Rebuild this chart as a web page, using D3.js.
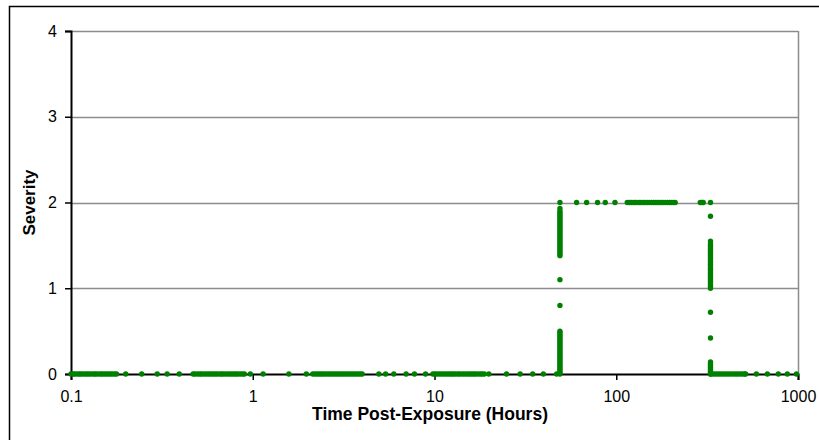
<!DOCTYPE html>
<html>
<head>
<meta charset="utf-8">
<script src="https://d3js.org/d3.v7.min.js"></script>
<style>
  body { margin: 0; background: #fff; }
  svg { display: block; font-family: "Liberation Sans", Arial, sans-serif; }
</style>
</head>
<body>
<svg width="819" height="440"></svg>
<script>
// hours where severity read as 0
var zeroHours = [
  0.100, 0.103, 0.105, 0.108, 0.111, 0.113, 0.116, 0.119, 0.122, 0.125, 0.128, 0.132,
  0.135, 0.138, 0.142, 0.146, 0.149, 0.153, 0.157, 0.161, 0.165, 0.169, 0.174, 0.178,
  0.200, 0.245, 0.298, 0.338, 0.394,
  0.47, 0.48, 0.495, 0.51, 0.52, 0.535, 0.55, 0.565, 0.58, 0.595, 0.61, 0.625, 0.64,
  0.66, 0.675, 0.69, 0.71, 0.73, 0.75, 0.77, 0.79, 0.81, 0.83, 0.855, 0.88, 0.90,
  0.97, 1.14, 1.58, 1.97,
  2.14, 2.2, 2.26, 2.32, 2.38, 2.44, 2.5, 2.57, 2.64, 2.71, 2.78, 2.85, 2.93, 3.0,
  3.08, 3.16, 3.25, 3.33, 3.42, 3.51, 3.6, 3.7, 3.8, 3.9, 4.0,
  4.94, 5.38, 5.97, 6.98, 7.76, 8.93,
  9.8, 10.05, 10.3, 10.6, 10.9, 11.2, 11.5, 11.8, 12.1, 12.4, 12.7, 13.0, 13.4, 13.7,
  14.1, 14.5, 14.9, 15.3, 15.7, 16.1, 16.5, 16.9, 17.4, 17.9, 18.3, 18.8,
  19.9, 24.9, 29.6, 34.7, 39.7, 47,
  330, 340, 350, 360, 370, 381, 392, 403, 415, 427, 440, 453, 466, 480, 494, 508, 515,
  590, 678, 779, 873, 980
];

// hours where severity read as 2
var twoHours = [
  49, 60.5, 68.7, 78.9, 87, 98.4,
  115, 118, 121, 124, 127, 130, 134, 137, 141, 144, 148, 152, 156, 160, 164, 168,
  172, 177, 181, 186, 191, 196, 201, 206, 211,
  290, 296, 301, 330
];

// onset column (~49 h) and recovery column (~330 h)
var onsetHour = 49;
var onsetLevels = [
  0, 0.02, 0.04, 0.06, 0.08, 0.1, 0.12, 0.14, 0.16, 0.18, 0.2, 0.22, 0.24, 0.26,
  0.28, 0.3, 0.32, 0.34, 0.36, 0.38, 0.4, 0.42, 0.44, 0.46, 0.48, 0.5,
  0.8, 1.1,
  1.38, 1.4, 1.42, 1.44, 1.46, 1.48, 1.5, 1.52, 1.54, 1.56, 1.58, 1.6, 1.62, 1.64,
  1.66, 1.68, 1.7, 1.72, 1.74, 1.76, 1.78, 1.8, 1.82, 1.84, 1.86, 1.88, 1.9, 1.93
];
var recoveryHour = 330;
var recoveryLevels = [
  0, 0.02, 0.04, 0.06, 0.08, 0.1, 0.12, 0.14,
  0.42, 0.72,
  1.0, 1.02, 1.04, 1.06, 1.08, 1.1, 1.12, 1.14, 1.16, 1.18, 1.2, 1.22, 1.24, 1.26,
  1.28, 1.3, 1.32, 1.34, 1.36, 1.38, 1.4, 1.42, 1.44, 1.46, 1.48, 1.5, 1.52, 1.55,
  1.84
];

var xTicks = [0.1, 1, 10, 100, 1000];
var yTicks = [0, 1, 2, 3, 4];

var points = [];
zeroHours.forEach(function(h) { points.push({ t: h, s: 0 }); });
onsetLevels.forEach(function(v) { points.push({ t: onsetHour, s: v }); });
twoHours.forEach(function(h) { points.push({ t: h, s: 2 }); });
recoveryLevels.forEach(function(v) { points.push({ t: recoveryHour, s: v }); });

var svg = d3.select("svg");
var plotLeft = 71, plotRight = 798, plotTop = 31, plotBottom = 374;

var x = d3.scaleLog().domain([0.1, 1000]).range([plotLeft, plotRight]);
var y = d3.scaleLinear().domain([0, 4]).range([plotBottom, plotTop]);

// outer chart frame (runs off the right and bottom edges)
svg.append("rect")
    .attr("x", 9.5).attr("y", 6.5)
    .attr("width", 830).attr("height", 460)
    .attr("fill", "none").attr("stroke", "#000").attr("stroke-width", 1.5);

// gridlines
svg.append("g").selectAll("line")
    .data(yTicks.filter(function(d) { return d > 0; }))
    .enter().append("line")
    .attr("x1", plotLeft).attr("x2", plotRight)
    .attr("y1", function(d) { return Math.round(y(d)) + 0.5; })
    .attr("y2", function(d) { return Math.round(y(d)) + 0.5; })
    .attr("stroke", "#8c8c8c").attr("stroke-width", 1.5);

// plot area right border
svg.append("line")
    .attr("x1", plotRight + 0.5).attr("x2", plotRight + 0.5)
    .attr("y1", plotTop).attr("y2", plotBottom)
    .attr("stroke", "#8c8c8c").attr("stroke-width", 1.5);

function styleAxis(g) {
  g.select(".domain").attr("stroke", "#000").attr("stroke-width", 2);
  g.selectAll(".tick line").attr("stroke", "#000").attr("stroke-width", 1.5);
  g.selectAll("text").attr("font-size", 16).attr("fill", "#000")
    .attr("font-family", "Liberation Sans, Arial, sans-serif");
}

var yAxis = d3.axisLeft(y).tickValues(yTicks).tickSize(6).tickPadding(8)
    .tickFormat(d3.format("d"));
svg.append("g")
    .attr("transform", "translate(" + plotLeft + ",0)")
    .call(yAxis)
    .call(styleAxis);

var xAxis = d3.axisBottom(x).tickValues(xTicks).tickSize(6).tickPadding(11)
    .tickFormat(function(d) { return String(d); });
svg.append("g")
    .attr("transform", "translate(0," + plotBottom + ")")
    .call(xAxis)
    .call(styleAxis);

// markers
svg.append("g").selectAll("circle")
    .data(points)
    .enter().append("circle")
    .attr("cx", function(d) { return x(d.t); })
    .attr("cy", function(d) { return y(d.s); })
    .attr("r", 2.7)
    .attr("fill", "#008000");

// axis titles
svg.append("text")
    .attr("x", 430).attr("y", 420)
    .attr("text-anchor", "middle")
    .attr("font-size", 17.5).attr("font-weight", "bold")
    .text("Time Post-Exposure (Hours)");

svg.append("text")
    .attr("transform", "translate(35," + y(2) + ") rotate(-90)")
    .attr("text-anchor", "middle")
    .attr("font-size", 17).attr("font-weight", "bold")
    .text("Severity");
</script>
</body>
</html>
